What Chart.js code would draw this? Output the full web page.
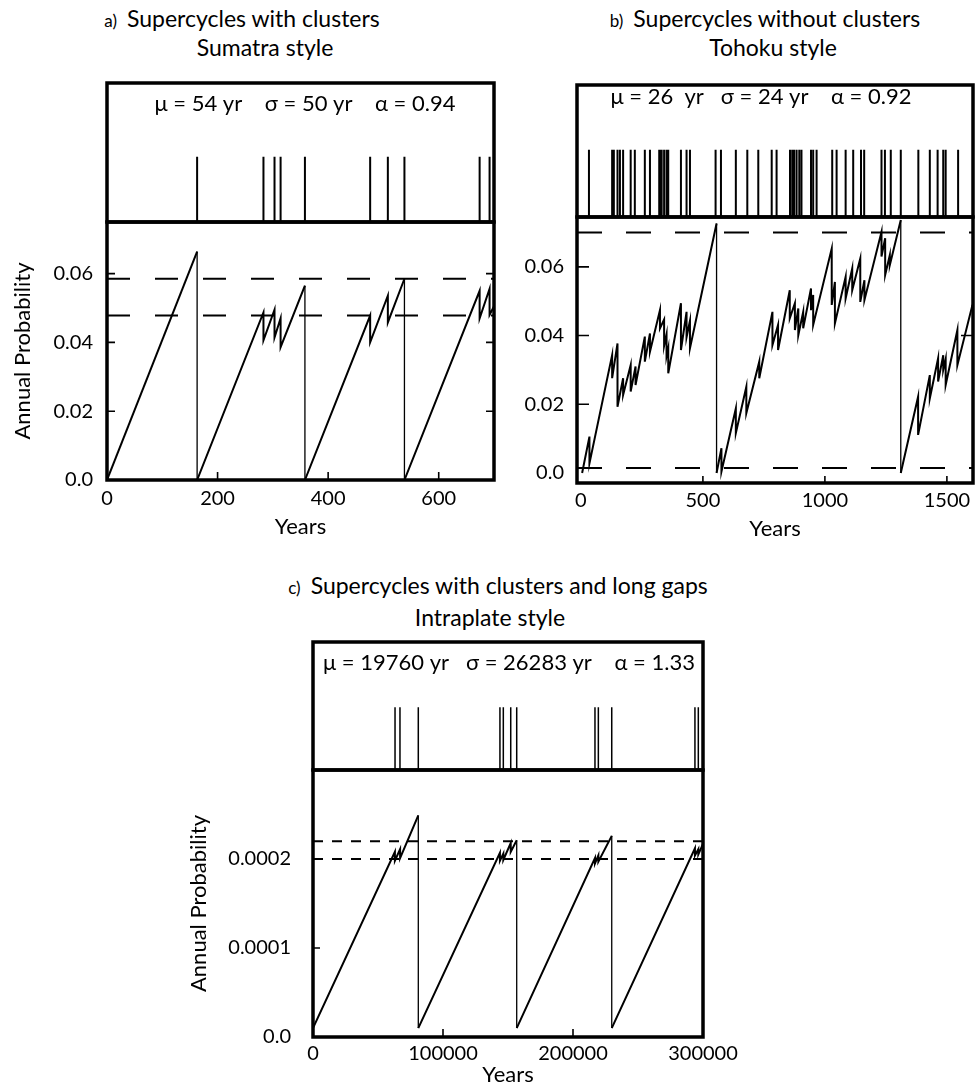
<!DOCTYPE html>
<html><head><meta charset="utf-8">
<script src="https://cdn.jsdelivr.net/npm/chart.js@4.4.0/dist/chart.umd.min.js"></script>
<style>
body{margin:0;background:#fff;width:976px;height:1088px;position:relative;overflow:hidden;font-family:Lato,'Open Sans',sans-serif;color:#000;}
canvas{position:absolute;}
.t{position:absolute;transform:translateX(-50%);white-space:nowrap;font-size:23px;line-height:26px;}
.t small{font-size:17px;margin-right:10px;}
</style></head><body>
<div class="t" style="left:242px;top:5px"><small>a)</small>Supercycles with clusters</div>
<div class="t" style="left:265px;top:34px">Sumatra style</div>
<div class="t" style="left:765px;top:5px"><small>b)</small>Supercycles without clusters</div>
<div class="t" style="left:773px;top:34px">Tohoku style</div>
<div class="t" style="left:498px;top:572px"><small>c)</small>Supercycles with clusters and long gaps</div>
<div class="t" style="left:490px;top:604px">Intraplate style</div>

<canvas id="sa" width="510" height="160" style="left:0;top:70px"></canvas>
<canvas id="la" width="510" height="350" style="left:0;top:200px"></canvas>
<canvas id="sb" width="466" height="160" style="left:510px;top:70px"></canvas>
<canvas id="lb" width="466" height="350" style="left:510px;top:200px"></canvas>
<canvas id="sc" width="610" height="150" style="left:150px;top:630px"></canvas>
<canvas id="lc" width="610" height="328" style="left:150px;top:760px"></canvas>
<script>
// ---------- Panel a: Sumatra style ----------
const A_YEARS = [0,163,163,283,283,303,303,314,314,358,358,476,476,508,508,538,538,674,674,692,692,700];
const A_PROB  = [0,0.0664,0,0.0487,0.0406,0.0495,0.0414,0.047,0.0386,0.0565,0,0.0478,0.040,0.0536,0.0458,0.0585,0,0.055,0.047,0.0556,0.048,0.0505];
const A_EVENTS = [163,283,303,314,358,476,508,538,674,692];
const A_LEVELS = [0.0478,0.0585];
const A_XTICKS = [0,200,400,600];
const A_XLABELS = ['0','200','400','600'];
const A_YTICKS = [0,0.02,0.04,0.06];
const A_YLABELS = ['0.0','0.02','0.04','0.06'];
const A_PARAMS = 'μ = 54 yr    σ = 50 yr    α = 0.94';

// ---------- Panel b: Tohoku style ----------
const B_YEARS = [5,35,35,128,128,150,150,173,173,204,204,224,224,262,262,283,283,324,324,341,341,351,351,358,358,410,410,433,433,447,447,556,556,
  576,576,635,635,678,678,731,731,785,785,808,808,856,856,877,877,891,891,911,911,943,943,952,952,1028,1028,1041,1041,1085,1085,1112,1112,1145,1145,1162,1162,1232,1232,1247,1247,1266,1266,1311,1311,
  1382,1382,1430,1430,1464,1464,1485,1485,1495,1495,1543,1543,1605];
const B_PROB = [0,0.0106,0.0028,0.0343,0.0276,0.0377,0.0193,0.0276,0.0227,0.0314,0.0237,0.031,0.0256,0.0397,0.0324,0.0406,0.0353,0.0474,0.0421,0.0447,0.037,0.0404,0.034,0.0364,0.029,0.0494,0.0358,0.0469,0.0395,0.0443,0.0363,0.0726,0,
  0.0072,0.0004,0.0188,0.0116,0.0251,0.0174,0.0324,0.0276,0.0469,0.0372,0.0431,0.0358,0.0532,0.045,0.0494,0.0416,0.0479,0.0401,0.0469,0.0421,0.0537,0.0474,0.0518,0.0431,0.0653,0.0489,0.0556,0.0435,0.0571,0.0508,0.0595,0.0532,0.0624,0.0498,0.0561,0.0503,0.0702,0.063,0.0683,0.0576,0.0634,0.0605,0.0736,0,
  0.0222,0.0111,0.0285,0.0217,0.0334,0.0266,0.0343,0.030,0.0332,0.0256,0.0416,0.0314,0.049];
const B_EVENTS = [33,128,135,150,160,173,204,221,262,283,321,326,331,341,351,358,410,433,447,552,574,635,682,727,782,802,857,866,874,884,895,904,943,952,966,1030,1048,1085,1116,1148,1161,1232,1246,1270,1311,1383,1430,1462,1485,1495,1546];
const B_LEVELS = [0.0015,0.070];
const B_XTICKS = [0,500,1000,1500];
const B_XLABELS = ['0','500','1000','1500'];
const B_YTICKS = [0,0.02,0.04,0.06];
const B_YLABELS = ['0.0','0.02','0.04','0.06'];
const B_PARAMS = 'μ = 26  yr   σ = 24 yr    α = 0.92';

// ---------- Panel c: Intraplate style ----------
const C_YEARS = [0,63000,63000,67000,67000,81000,81000,143800,143800,146400,146400,152100,152100,156700,156700,216900,216900,219500,219500,229800,229800,293800,293800,296400,296400,300000];
const C_PROB  = [0.00001,0.000208,0.000198,0.000211,0.000201,0.000249,0.00001,0.000207,0.000198,0.000206,0.000199,0.000218,0.000208,0.000221,0.00001,0.000201,0.000195,0.000204,0.000197,0.000226,0.00001,0.000212,0.000204,0.000211,0.000205,0.000217];
const C_EVENTS = [63100,66900,81000,143800,146400,152100,156700,216900,219500,229800,293800,296400];
const C_LEVELS = [0.0002,0.00022];
const C_XTICKS = [0,100000,200000,300000];
const C_XLABELS = ['0','100000','200000','300000'];
const C_YTICKS = [0,0.0001,0.0002];
const C_YLABELS = ['0.0','0.0001','0.0002'];
const C_PARAMS = 'μ = 19760 yr   σ = 26283 yr    α = 1.33';

const FONT = 'Lato';

const frame = { id:'frame', afterDraw(chart, args, o){
  const {ctx, chartArea:a} = chart; ctx.save(); ctx.strokeStyle='#000'; ctx.lineWidth=o.width||3.5;
  ctx.strokeRect(a.left,a.top,a.right-a.left,a.bottom-a.top); ctx.restore(); } };
const inwardTicks = { id:'inwardTicks', afterDatasetsDraw(chart, args, o){
  if(!o.len) return;
  const {ctx, chartArea:a, scales:{x,y}} = chart; ctx.save(); ctx.strokeStyle='#000'; ctx.lineWidth=1.6; ctx.beginPath();
  (o.left||[]).forEach(v=>{const p=y.getPixelForValue(v); ctx.moveTo(a.left,p); ctx.lineTo(a.left+o.len,p);});
  (o.right||[]).forEach(v=>{const p=y.getPixelForValue(v); ctx.moveTo(a.right,p); ctx.lineTo(a.right-o.len,p);});
  (o.bottom||[]).forEach(v=>{const p=x.getPixelForValue(v); ctx.moveTo(p,a.bottom); ctx.lineTo(p,a.bottom-o.xlen);});
  ctx.stroke(); ctx.restore(); } };
const paramText = { id:'paramText', afterDraw(chart, args, o){
  if(!o.text) return; const {ctx, chartArea:a} = chart; ctx.save(); ctx.fillStyle='#000';
  ctx.font = o.size+'px '+FONT; ctx.textAlign='center'; ctx.textBaseline='middle';
  ctx.fillText(o.text, a.left+o.dx, a.top+o.dy); ctx.restore(); } };

function strip(id, c){
  return new Chart(document.getElementById(id), {
    type:'line',
    data:{datasets:[{data:c.events.flatMap(t=>[{x:t,y:0},{x:t,y:c.h},{x:t,y:null}]), borderColor:'#000', borderWidth:c.lw, pointRadius:0, spanGaps:false}]},
    options:{animation:false, responsive:false, events:[], layout:{padding:c.pad},
      plugins:{legend:{display:false}, tooltip:{enabled:false}, paramText:{text:c.text, dx:c.dx, dy:c.dy, size:c.size}},
      scales:{x:{type:'linear', display:false, min:c.xmin, max:c.xmax}, y:{type:'linear', display:false, min:0, max:1}}},
    plugins:[frame, paramText]
  });
}

function lower(id, c){
  const tickFont = {family:FONT, size:20};
  const titleFont = {family:FONT, size:22};
  const ds = [{data:c.years.map((x,i)=>({x, y:c.prob[i]})), borderColor:'#000', borderWidth:2, pointRadius:0, tension:0,
      segment:{borderWidth: s => (s.p0.parsed.x===s.p1.parsed.x && s.p0.parsed.y - s.p1.parsed.y > c.bigDrop) ? 1.3 : 2}}];
  c.levels.forEach(v => ds.push({data:[{x:c.xmin,y:v},{x:c.xmax,y:v}], borderColor:'#000', borderWidth:2, borderDash:c.dash, pointRadius:0}));
  return new Chart(document.getElementById(id), {
    type:'line', data:{datasets:ds},
    options:{animation:false, responsive:false, events:[], layout:{padding:c.pad},
      plugins:{legend:{display:false}, tooltip:{enabled:false}, inwardTicks:c.ticks},
      scales:{
        x:{type:'linear', min:c.xmin, max:c.xmax, grid:{display:false, drawTicks:false}, border:{display:false},
          afterBuildTicks: s => { s.ticks = c.xticks.map(v=>({value:v})); },
          afterFit: s => { s.height = c.xh; s.paddingLeft = 0; s.paddingRight = 0; },
          ticks:{padding:c.xpad, font:tickFont, color:'#000', maxRotation:0, autoSkip:false, callback:(v,i)=>c.xlabels[i]},
          title:{display:true, text:'Years', font:titleFont, color:'#000', padding:{top:0, bottom:c.xtpad}}},
        y:{type:'linear', min:c.ymin, max:c.ymax, grid:{display:false, drawTicks:false}, border:{display:false},
          afterBuildTicks: s => { s.ticks = c.yticks.map(v=>({value:v})); },
          afterFit: s => { s.width = c.yw; s.paddingTop = 0; s.paddingBottom = 0; },
          ticks:{padding:c.ypad, font:tickFont, color:'#000', autoSkip:false, callback:(v,i)=>c.ylabels[i]},
          title:{display:c.ytitle, text:'Annual Probability', font:titleFont, color:'#000', padding:{top:c.ytpad, bottom:0}}}
      }},
    plugins:[frame, inwardTicks]
  });
}

strip('sa', {events:A_EVENTS, h:0.47, lw:2, pad:{left:107, right:16, top:13, bottom:8}, xmin:0, xmax:700, text:A_PARAMS, dx:198, dy:21, size:22});
lower('la', {years:A_YEARS, prob:A_PROB, levels:A_LEVELS, xmin:0, xmax:700, ymin:0, ymax:0.075, xticks:A_XTICKS, xlabels:A_XLABELS, yticks:A_YTICKS, ylabels:A_YLABELS,
  pad:{left:0, top:22, right:16, bottom:0}, yw:107, xh:70, xpad:7, xtpad:10, ypad:14, ytpad:10, ytitle:true, dash:[23,25], bigDrop:0.03,
  ticks:{len:8, xlen:8, left:[0.02,0.04,0.06], right:[0.02,0.04,0.06], bottom:[200,400,600]}});

strip('sb', {events:B_EVENTS, h:0.51, lw:2, pad:{left:67, right:3, top:15, bottom:13}, xmin:-16, xmax:1607, text:B_PARAMS, dx:184, dy:12, size:22});
lower('lb', {years:B_YEARS, prob:B_PROB, levels:B_LEVELS, xmin:-16, xmax:1607, ymin:-0.0029, ymax:0.0745, xticks:B_XTICKS, xlabels:B_XLABELS, yticks:B_YTICKS, ylabels:B_YLABELS,
  pad:{left:0, top:17, right:3, bottom:0}, yw:67, xh:67, xpad:6, xtpad:8, ypad:13, ytpad:0, ytitle:false, dash:[25,24], bigDrop:0.03,
  ticks:{len:12, xlen:7, left:[0.02,0.04,0.06], right:[0.04], bottom:[500,1000,1500]}});

strip('sc', {events:C_EVENTS, h:0.49, lw:1.5, pad:{left:163, right:57, top:12, bottom:10}, xmin:0, xmax:300000, text:C_PARAMS, dx:196, dy:21, size:22});
lower('lc', {years:C_YEARS, prob:C_PROB, levels:C_LEVELS, xmin:0, xmax:300000, ymin:0, ymax:0.0003, xticks:C_XTICKS, xlabels:C_XLABELS, yticks:C_YTICKS, ylabels:C_YLABELS,
  pad:{left:0, top:10, right:57, bottom:0}, yw:163, xh:51, xpad:5, xtpad:0, ypad:22, ytpad:36, ytitle:true, dash:[10,9], bigDrop:0.00015,
  ticks:{len:7, xlen:8, left:[0.0001,0.0002], right:[], bottom:[100000,200000]}});
</script>
</body></html>
